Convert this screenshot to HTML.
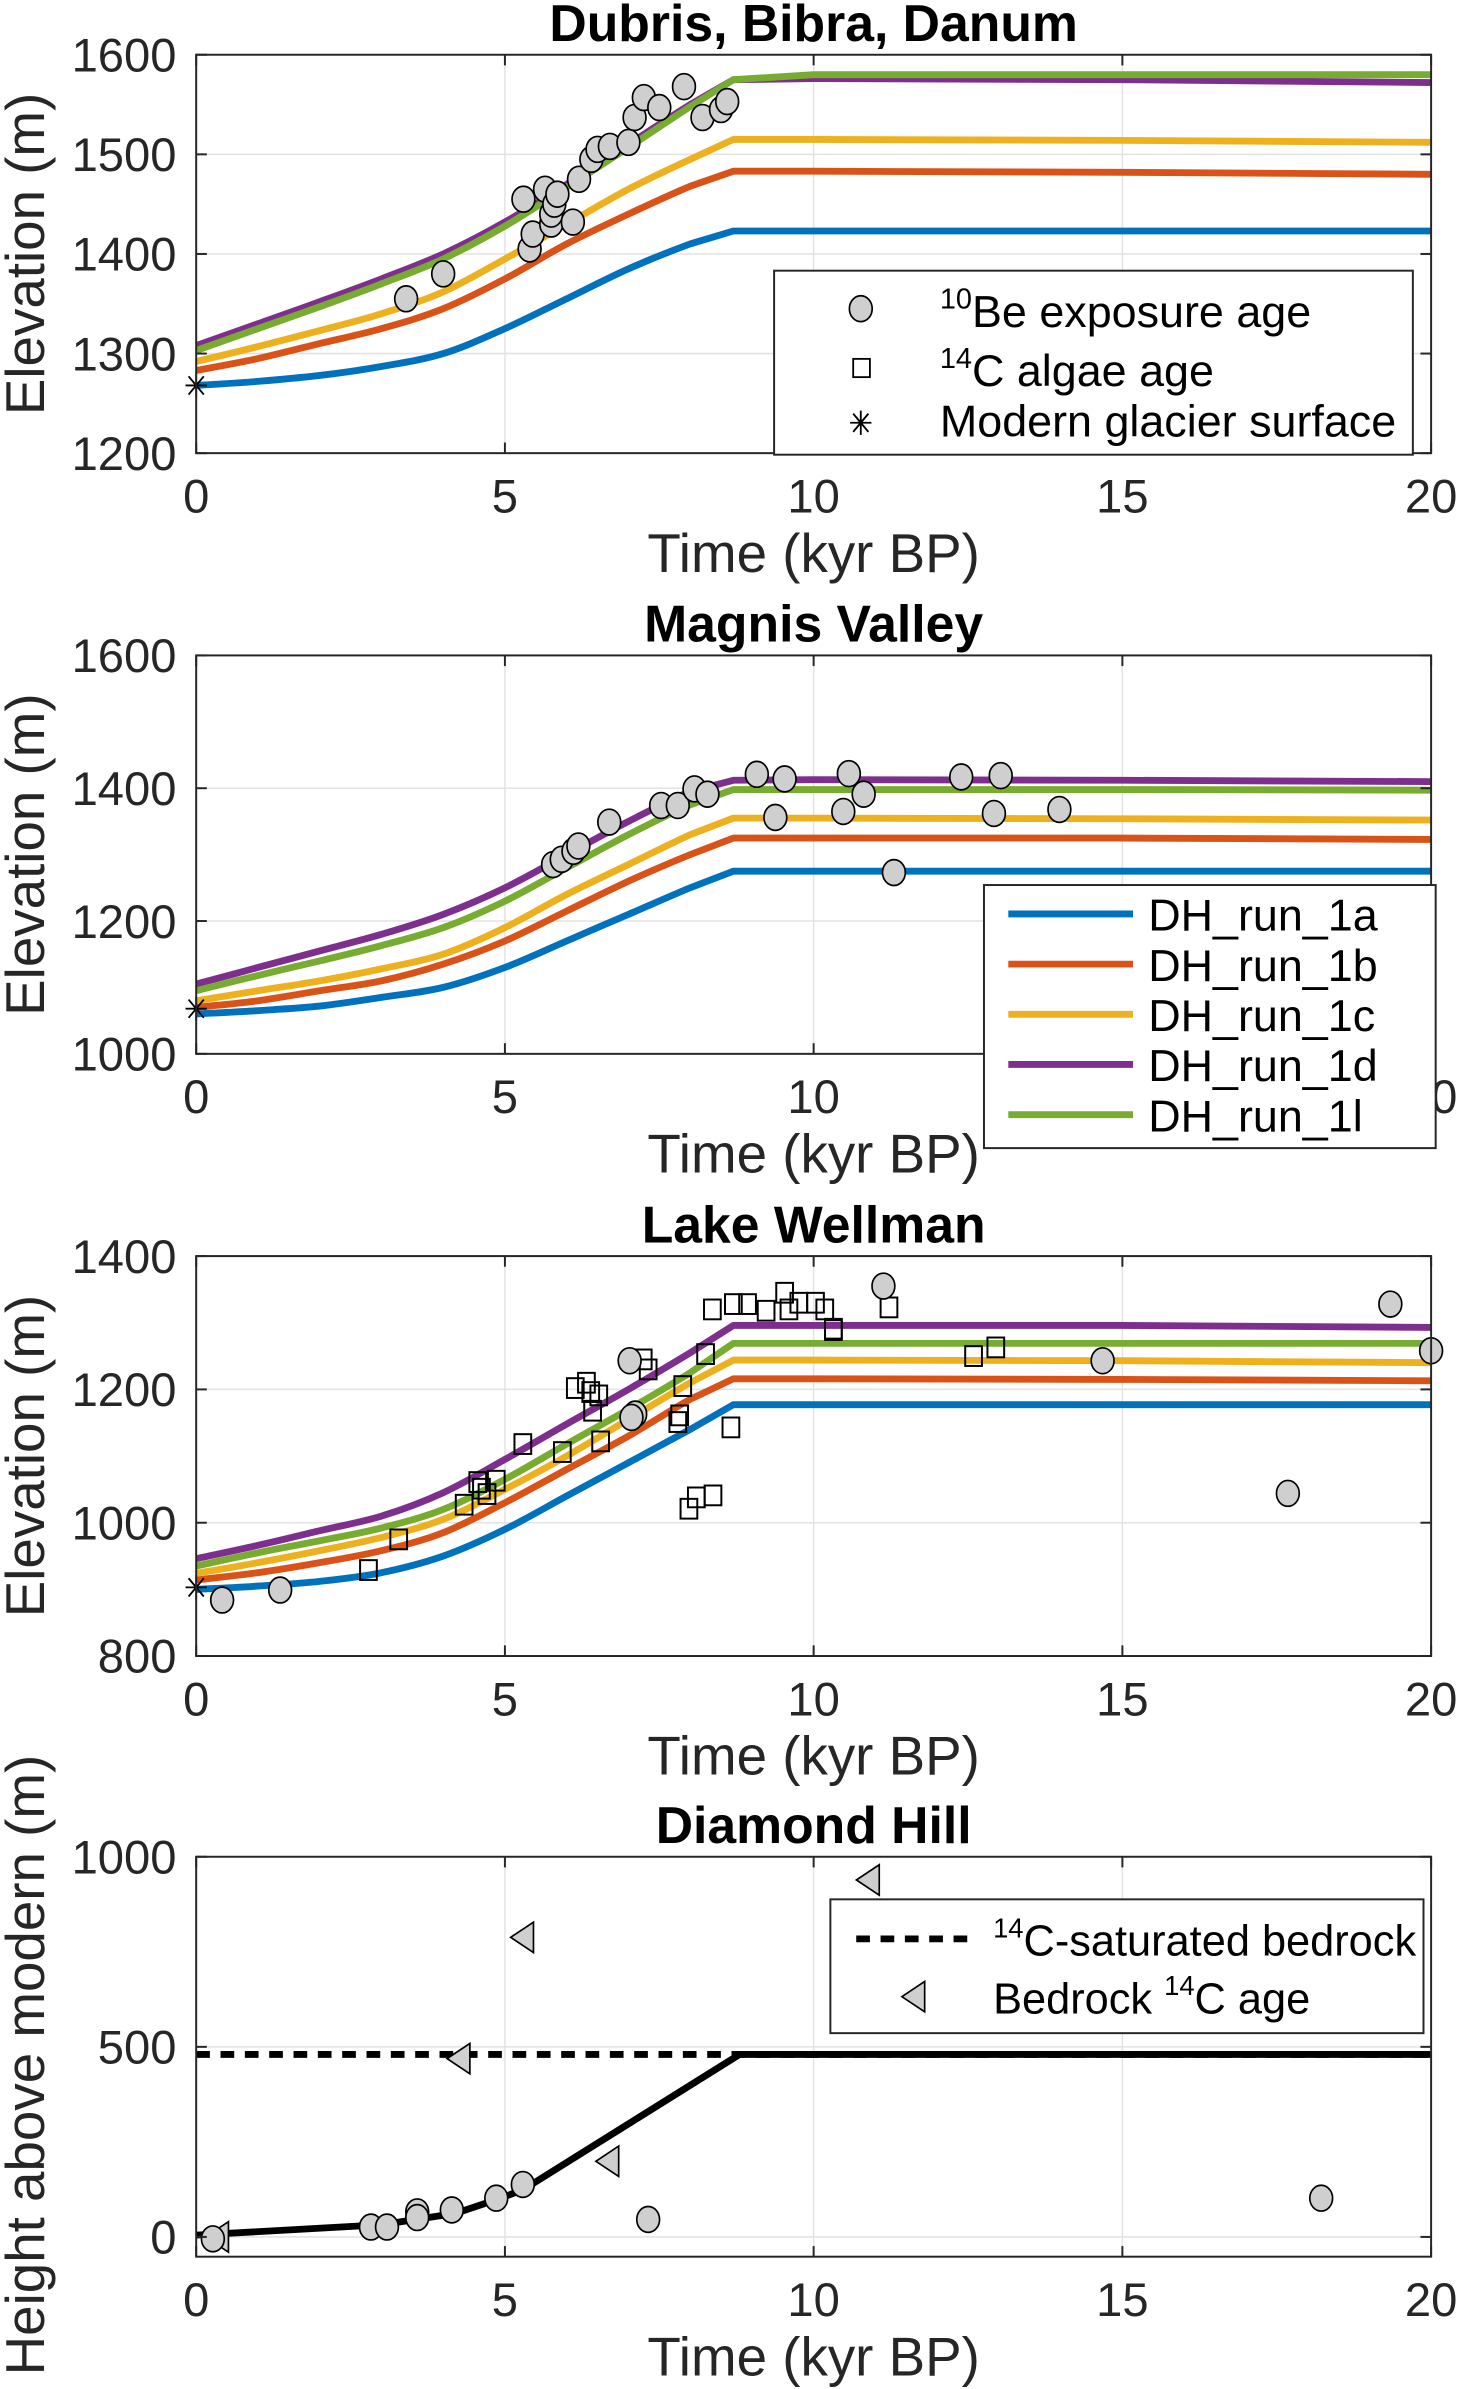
<!DOCTYPE html>
<html><head><meta charset="utf-8"><style>
html,body{margin:0;padding:0;background:#fff}
svg{display:block;font-family:"Liberation Sans",Arial,sans-serif}
</style></head><body>
<svg id="fig" width="1460" height="2389" viewBox="0 0 960 1571" preserveAspectRatio="none" xmlns="http://www.w3.org/2000/svg"></svg>
<script>
const tGrid = [0,1,2,3,4,5,6,7,8,8.7,10,15,20];
const seriesNames = ['DH_run_1a','DH_run_1b','DH_run_1c','DH_run_1d','DH_run_1l'];
const seriesColors = ['#0072BD','#D95319','#EDB120','#7E2F8E','#77AC30'];
// Panel 1: Dubris, Bibra, Danum
const p1Run1a = [1268,1272,1278,1287,1300,1325,1355,1385,1410,1423,1423,1423,1423];
const p1Run1b = [1283,1295,1310,1325,1345,1375,1410,1440,1468,1483,1483,1482,1480];
const p1Run1c = [1292,1307,1323,1340,1362,1395,1430,1465,1495,1515,1515,1514,1512];
const p1Run1d = [1308,1330,1352,1375,1400,1432,1470,1510,1550,1575,1576,1575,1572];
const p1Run1l = [1303,1325,1347,1370,1395,1428,1467,1507,1548,1575,1580,1580,1580];
const p1BeT = [3.4,4.0,5.3,5.4,5.45,5.65,5.75,5.75,5.8,5.85,6.1,6.2,6.4,6.5,6.7,7.0,7.1,7.25,7.5,7.9,8.2,8.5,8.6];
const p1BeE = [1355,1380,1455,1405,1420,1465,1430,1440,1450,1460,1432,1475,1495,1505,1508,1512,1537,1557,1547,1568,1537,1545,1553];
const p1Modern = [0,1268];
// Panel 2: Magnis Valley
const p2Run1a = [1060,1065,1072,1085,1100,1130,1170,1210,1250,1275,1275,1275,1275];
const p2Run1b = [1070,1080,1095,1110,1135,1170,1215,1260,1300,1325,1325,1325,1323];
const p2Run1c = [1080,1095,1110,1128,1150,1190,1240,1285,1330,1355,1355,1354,1352];
const p2Run1d = [1105,1130,1155,1180,1210,1250,1300,1350,1395,1412,1413,1412,1410];
const p2Run1l = [1095,1118,1140,1163,1190,1230,1280,1330,1375,1398,1398,1398,1397];
const p2BeT = [5.78,5.92,6.11,6.19,6.69,7.53,7.8,8.07,8.28,9.08,9.53,9.38,10.57,10.48,10.81,11.3,12.39,12.92,13.03,13.98];
const p2BeE = [1285,1293,1305,1313,1349,1374,1374,1399,1391,1421,1414,1356,1422,1365,1391,1273,1417,1362,1419,1368];
const p2Modern = [0,1068];
// Panel 3: Lake Wellman
const p3Run1a = [900,905,912,925,950,990,1040,1090,1140,1177,1177,1177,1177];
const p3Run1b = [914,925,940,958,985,1030,1080,1130,1185,1216,1216,1215,1213];
const p3Run1c = [924,940,958,978,1005,1050,1100,1155,1210,1244,1244,1243,1240];
const p3Run1d = [946,966,988,1010,1045,1095,1148,1200,1255,1296,1296,1296,1293];
const p3Run1l = [935,955,973,992,1020,1065,1118,1170,1225,1269,1269,1269,1269];
const p3BeT = [0.42,1.36,7.02,7.11,7.05,11.13,14.68,17.68,19.34,20];
const p3BeE = [884,899,1243,1163,1158,1355,1243,1044,1328,1258];
const p3CT = [2.79,3.28,4.34,4.56,4.62,4.71,4.86,5.29,5.93,6.14,6.32,6.39,6.52,6.42,6.55,7.32,7.24,7.88,7.83,7.8,7.98,8.1,8.37,8.25,8.66,8.36,8.7,8.93,9.23,9.53,9.6,9.76,10.03,10.18,10.32,10.32,11.22,12.59,12.95];
const p3CE = [929,975,1027,1061,1051,1043,1063,1118,1106,1202,1210,1196,1191,1168,1122,1230,1245,1205,1161,1151,1021,1038,1041,1253,1143,1320,1328,1328,1318,1345,1320,1330,1330,1320,1291,1289,1323,1250,1263];
const p3Modern = [0,903];
// Panel 4: Diamond Hill
const p4LineT = [0,3,4.2,4.9,5.3,8.8,20];
const p4LineH = [5,32,62,100,125,480,480];
const p4SatH = 480;
const p4BeT = [0.27,2.83,3.09,3.58,3.58,4.14,4.86,5.29,7.32,18.22];
const p4BeH = [-5,26,26,66,51,71,102,138,46,102];
const p4TriT = [0.35,4.26,5.29,6.67,10.89];
const p4TriH = [0,469,788,199,939];

const NS='http://www.w3.org/2000/svg';
const svg=document.getElementById('fig');
function mk(tag,attrs,parent){const e=document.createElementNS(NS,tag);for(const k in attrs)e.setAttribute(k,attrs[k]);(parent||svg).appendChild(e);return e;}
const X0=129,X1=941;
function xs(t){return X0+(t/20)*(X1-X0);}
function makeY(top,bot,ymax,ymin){return v=>top+(ymax-v)/(ymax-ymin)*(bot-top);}
function smoothPath(pts){
  let d='M'+pts[0][0].toFixed(1)+' '+pts[0][1].toFixed(1);
  for(let i=0;i<pts.length-1;i++){
    const p0=pts[Math.max(0,i-1)],p1=pts[i],p2=pts[i+1],p3=pts[Math.min(pts.length-1,i+2)];
    const k=i>=8?0:1/6;
    const c1=[p1[0]+(p2[0]-p0[0])*k,p1[1]+(p2[1]-p0[1])*k];
    const c2=[p2[0]-(p3[0]-p1[0])*k,p2[1]-(p3[1]-p1[1])*k];
    d+=` C${c1[0].toFixed(1)} ${c1[1].toFixed(1)} ${c2[0].toFixed(1)} ${c2[1].toFixed(1)} ${p2[0].toFixed(1)} ${p2[1].toFixed(1)}`;
  }
  return d;
}

function panel(o){
  const g=mk('g',{});
  
  
  const ys=makeY(o.top,o.bot,o.ymax,o.ymin);
  [5,10,15].forEach(t=>{const l=mk('line',{x1:xs(t),x2:xs(t),y1:o.top,y2:o.bot,stroke:'#e3e3e3','stroke-width':1},g);});
  o.yticks.forEach(v=>{const l=mk('line',{x1:X0,x2:X1,y1:ys(v),y2:ys(v),stroke:'#e3e3e3','stroke-width':1},g);});
  if(o.series){o.series.forEach((s,i)=>{
    const pts=tGrid.map((t,j)=>[xs(t),ys(s[j])]);
    const p=mk('path',{d:smoothPath(pts),fill:'none',stroke:seriesColors[i],'stroke-width':4.5,'stroke-linejoin':'round'},g);
    
    
  });}
  if(o.extra)o.extra(g,ys);
  if(o.sqT){o.sqT.forEach((t,i)=>{const r=mk('rect',{x:xs(t)-5.5,y:ys(o.sqE[i])-6.5,width:11,height:13,fill:'none',stroke:'#000','stroke-width':1.3},g);});}
  if(o.beT){o.beT.forEach((t,i)=>{const c=mk('ellipse',{cx:xs(t),cy:ys(o.beE[i]),rx:7.5,ry:8.5,fill:'#cfcfcf',stroke:'#000','stroke-width':1.1},g);});}
  if(o.modern){const x=xs(o.modern[0]),y=ys(o.modern[1]);const s=mk('path',{d:`M${x-7} ${y}H${x+7}M${x} ${y-8}V${y+8}M${x-5} ${y-6}L${x+5} ${y+6}M${x-5} ${y+6}L${x+5} ${y-6}`,stroke:'#000','stroke-width':1.2},g);}
  const b=mk('rect',{x:X0,y:o.top,width:X1-X0,height:o.bot-o.top,fill:'none',stroke:'#262626','stroke-width':1.3},g);
  
  [0,5,10,15,20].forEach(t=>{
    mk('line',{x1:xs(t),x2:xs(t),y1:o.bot,y2:o.bot-7,stroke:'#262626','stroke-width':1.3},g);
    mk('line',{x1:xs(t),x2:xs(t),y1:o.top,y2:o.top+7,stroke:'#262626','stroke-width':1.3},g);
    const tx=mk('text',{x:xs(t),y:o.bot+39,'text-anchor':'middle','font-size':31,fill:'#262626'},g);tx.textContent=t;
    
  });
  o.yticks.forEach((v,i)=>{
    mk('line',{x1:X0,x2:X0+7,y1:ys(v),y2:ys(v),stroke:'#262626','stroke-width':1.3},g);
    mk('line',{x1:X1,x2:X1-7,y1:ys(v),y2:ys(v),stroke:'#262626','stroke-width':1.3},g);
    const tx=mk('text',{x:116,y:ys(v)+11,'text-anchor':'end','font-size':31,fill:'#262626'},g);tx.textContent=o.ylabels[i];
    
  });
  const ti=mk('text',{x:535,y:o.top-9,'text-anchor':'middle','font-size':34,'font-weight':'bold',fill:'#000'},g);ti.textContent=o.title;
  
  const xl=mk('text',{x:535,y:o.bot+78,'text-anchor':'middle','font-size':36,fill:'#262626'},g);xl.textContent='Time (kyr BP)';
  
  const yc=o.ylabCenter||(o.top+o.bot)/2;
  const yl=mk('text',{x:0,y:0,'text-anchor':'middle','font-size':36,fill:'#262626',transform:`translate(29 ${yc}) rotate(-90)`},g);yl.textContent=o.ylab;
  
  return g;
}

panel({name:'panel-dubris-bibra-danum',title:'Dubris, Bibra, Danum',top:36,bot:298,ymax:1600,ymin:1200,yticks:[1200,1300,1400,1500,1600],ylabels:['1200','1300','1400','1500','1600'],ylab:'Elevation (m)',
  series:[p1Run1a,p1Run1b,p1Run1c,p1Run1d,p1Run1l],beT:p1BeT,beE:p1BeE,modern:p1Modern});
panel({name:'panel-magnis-valley',title:'Magnis Valley',top:431,bot:693,ymax:1600,ymin:1000,yticks:[1000,1200,1400,1600],ylabels:['1000','1200','1400','1600'],ylab:'Elevation (m)',
  series:[p2Run1a,p2Run1b,p2Run1c,p2Run1d,p2Run1l],beT:p2BeT,beE:p2BeE,modern:p2Modern});
panel({name:'panel-lake-wellman',title:'Lake Wellman',top:826,bot:1089,ymax:1400,ymin:800,yticks:[800,1000,1200,1400],ylabels:['800','1000','1200','1400'],ylab:'Elevation (m)',
  series:[p3Run1a,p3Run1b,p3Run1c,p3Run1d,p3Run1l],sqT:p3CT,sqE:p3CE,beT:p3BeT,beE:p3BeE,modern:p3Modern});
panel({name:'panel-diamond-hill',title:'Diamond Hill',top:1221,bot:1484,ymax:1000,ymin:-52,yticks:[0,500,1000],ylabels:['0','500','1000'],ylab:'Height above modern (m)',ylabCenter:1358,
  beT:p4BeT,beE:p4BeH,
  extra:(g,ys)=>{
    const dl=mk('line',{x1:xs(0),x2:xs(20),y1:ys(p4SatH),y2:ys(p4SatH),stroke:'#000','stroke-width':4.5,'stroke-dasharray':'9 7'},g);
    
    const d=p4LineT.map((t,j)=>(j?'L':'M')+xs(t).toFixed(1)+' '+ys(p4LineH[j]).toFixed(1)).join(' ');
    const p=mk('path',{d:d,fill:'none',stroke:'#000','stroke-width':4.5,'stroke-linejoin':'round'},g);
    
    p4TriT.forEach((t,i)=>{const x=xs(t),y=ys(p4TriH[i]);const tr=mk('path',{d:`M${x-8} ${y}L${x+7} ${y-10}L${x+7} ${y+10}Z`,fill:'#cfcfcf',stroke:'#000','stroke-width':1.1},g);});
  }});

// Legend 1
(function(){
  const g=mk('g',{});
  mk('rect',{x:509,y:178,width:420,height:121,fill:'#fff',stroke:'#262626','stroke-width':1.3},g);
  mk('ellipse',{cx:566,cy:203,rx:7.5,ry:8.5,fill:'#cfcfcf',stroke:'#000','stroke-width':1.1},g);
  mk('rect',{x:561,y:236,width:11,height:12,fill:'none',stroke:'#000','stroke-width':1.2},g);
  mk('path',{d:'M559 278H573M566 270V286M561 272L571 284M561 284L571 272',stroke:'#000','stroke-width':1.2},g);
  const rows=[['10','Be exposure age',215],['14','C algae age',254]];
  rows.forEach(r=>{const t=mk('text',{x:618,y:r[2],'font-size':29.5,fill:'#000'},g);
    const s=mk('tspan',{'font-size':19,dy:-12},t);s.textContent=r[0];
    const m=mk('tspan',{dy:12},t);m.textContent=r[1];
    });
  const t=mk('text',{x:618,y:287,'font-size':29.5,fill:'#000'},g);t.textContent='Modern glacier surface';
  
})();
// Legend 2
(function(){
  const g=mk('g',{});
  mk('rect',{x:647,y:582,width:297,height:173,fill:'#fff',stroke:'#262626','stroke-width':1.3},g);
  seriesNames.forEach((n,i)=>{const y=601+i*33;
    const l=mk('line',{x1:663,x2:745,y1:y,y2:y,stroke:seriesColors[i],'stroke-width':4.5},g);
    
    const t=mk('text',{x:755,y:y+11,'font-size':29.5,fill:'#000'},g);t.textContent=n;
    });
})();
// Legend 4
(function(){
  const g=mk('g',{});
  mk('rect',{x:546,y:1249,width:390,height:88,fill:'#fff',stroke:'#262626','stroke-width':1.3},g);
  mk('line',{x1:563,x2:637,y1:1275,y2:1275,stroke:'#000','stroke-width':4.5,'stroke-dasharray':'9 7'},g);
  mk('path',{d:'M593 1313L608 1303L608 1323Z',fill:'#cfcfcf',stroke:'#000','stroke-width':1.1},g);
  const t1=mk('text',{x:653,y:1286,'font-size':28.5,fill:'#000'},g);
  const a=mk('tspan',{'font-size':18,dy:-12},t1);a.textContent='14';
  const b=mk('tspan',{dy:12},t1);b.textContent='C-saturated bedrock';
  
  const t2=mk('text',{x:653,y:1324,'font-size':28.5,fill:'#000'},g);
  const c=mk('tspan',{},t2);c.textContent='Bedrock ';
  const d=mk('tspan',{'font-size':18,dy:-12},t2);d.textContent='14';
  const e=mk('tspan',{dy:12},t2);e.textContent='C age';
  
})();
</script>
</body></html>
